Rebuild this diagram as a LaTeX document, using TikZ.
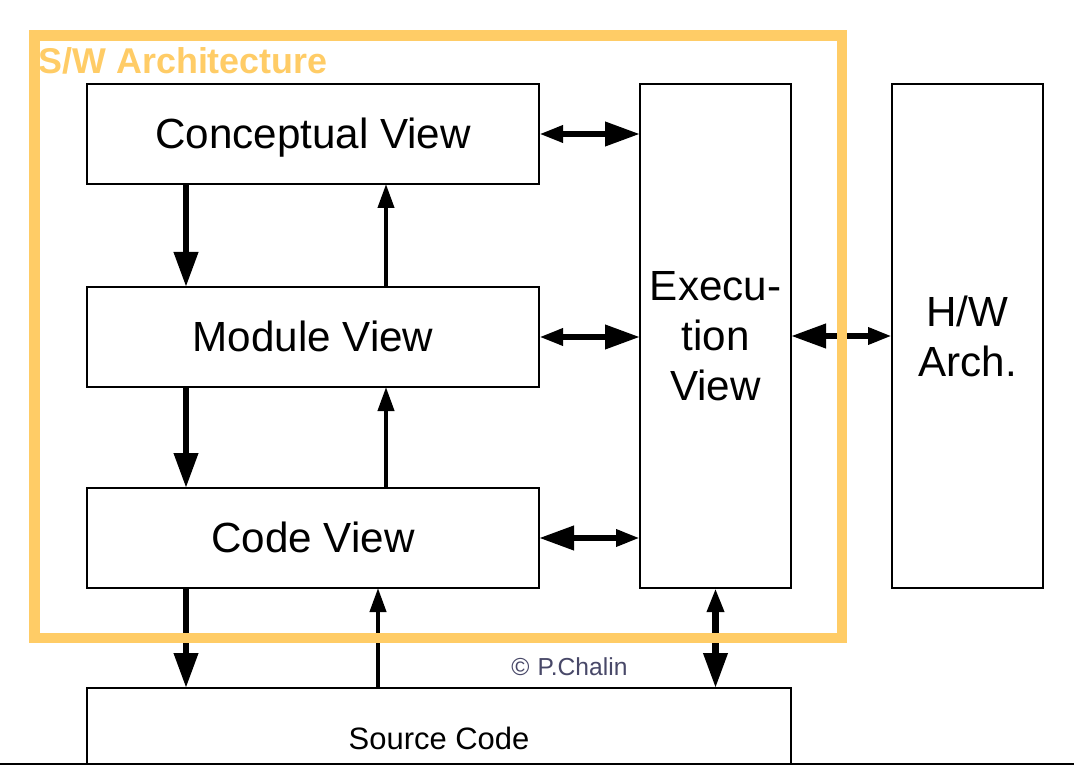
\documentclass[tikz,border=0pt]{standalone}
\usepackage{fontspec}
\setmainfont{Liberation Sans}
\usepackage{tikz}
\usetikzlibrary{positioning, arrows.meta}
\definecolor{archorange}{RGB}{255,204,102}
\definecolor{copygray}{RGB}{72,72,104}
\newcommand{\viewfont}{\fontsize{30}{35.6}\selectfont}
\tikzset{
	bigtip/.tip={Triangle[length=0.875cm, width=0.58cm]},
	smalltip/.tip={Triangle[length=0.6cm, width=0.4cm]},
	view/.style={
		rectangle,
		draw=black,
		line width=1pt,
		align=center,
		font=\viewfont,
		inner sep=0pt,
		outer sep=0pt
	},
	wide view/.style={view, minimum width=11.3cm, minimum height=2.5cm, text height=21pt, text depth=0pt},
	tall view/.style={view, minimum width=3.775cm, minimum height=12.6cm},
	down edge/.style={line width=0.16cm, -bigtip},
	up edge/.style={line width=0.1cm, -smalltip},
	link/.style={line width=0.16cm, smalltip-bigtip},
	swframe/.style={draw=archorange, line width=0.26cm, inner sep=0pt, outer sep=0pt}
}

\begin{document}
\begin{tikzpicture}
	\useasboundingbox (0,0) rectangle (26.85,-19.15);
	% views of the software
	\node[wide view, anchor=north west] (concept) at (2.175,-2.1) {Conceptual View};
	\node[wide view, below=2.575cm of concept] (module) {Module View};
	\node[wide view, below=2.525cm of module] (code) {Code View};
	\node[tall view, right=2.525cm of concept.north east, anchor=north west] (exec) {Execu-\\tion\\View};
	\node[tall view, right=2.525cm of exec.north east, anchor=north west] (hw) {H/W\\Arch.};
	\node[view, minimum width=17.6cm, minimum height=1.9cm, below=2.5cm of code.south west, anchor=north west] (src) {};
	\node[font=\fontsize{22}{26}\selectfont] (srclabel) at ([yshift=-0.3cm]src.center) {Source Code};
	\draw[line width=1pt] (0,-19.1) -- (26.85,-19.1);
	\node[fill=white, text=copygray, font=\fontsize{17.5}{20}\selectfont, inner xsep=0.125cm, inner ysep=0.3cm, text width=4.825cm, align=left, anchor=base west] (copy) at (12.65,-16.875) {© P.Chalin};

	\draw[down edge] ([xshift=2.475cm]concept.south west) -- ([xshift=2.475cm]module.north west);
	\draw[up edge] ([xshift=7.475cm]module.north west) -- ([xshift=7.475cm]concept.south west);
	\draw[down edge] ([xshift=2.475cm]module.south west) -- ([xshift=2.475cm]code.north west);
	\draw[up edge] ([xshift=7.475cm]code.north west) -- ([xshift=7.475cm]module.south west);
	\draw[down edge] ([xshift=2.475cm]code.south west) -- ([xshift=2.475cm]src.north west);
	\draw[up edge] ([xshift=7.275cm]src.north west) -- ([xshift=7.275cm]code.south west);

	\draw[link] (concept.east) -- (concept.east -| exec.west);
	\draw[link] (module.east) -- (module.east -| exec.west);
	\draw[link, bigtip-smalltip] (code.east) -- (code.east -| exec.west);
	\draw[link, bigtip-smalltip] (exec.east) -- (hw.west);
	\draw[link] (exec.south) -- (exec.south |- src.north);

	% frame of the S/W architecture
	\node[swframe, minimum width=20.19cm, minimum height=15.06cm] (sw) at (10.956,-8.419) {};
	\node[text=archorange, font=\fontsize{25.5}{30}\selectfont\bfseries, inner sep=0pt, anchor=base west] (swlabel) at ([shift={(0.1cm,-0.94cm)}]sw.north west) {S/W Architecture};
\end{tikzpicture}
\end{document}
